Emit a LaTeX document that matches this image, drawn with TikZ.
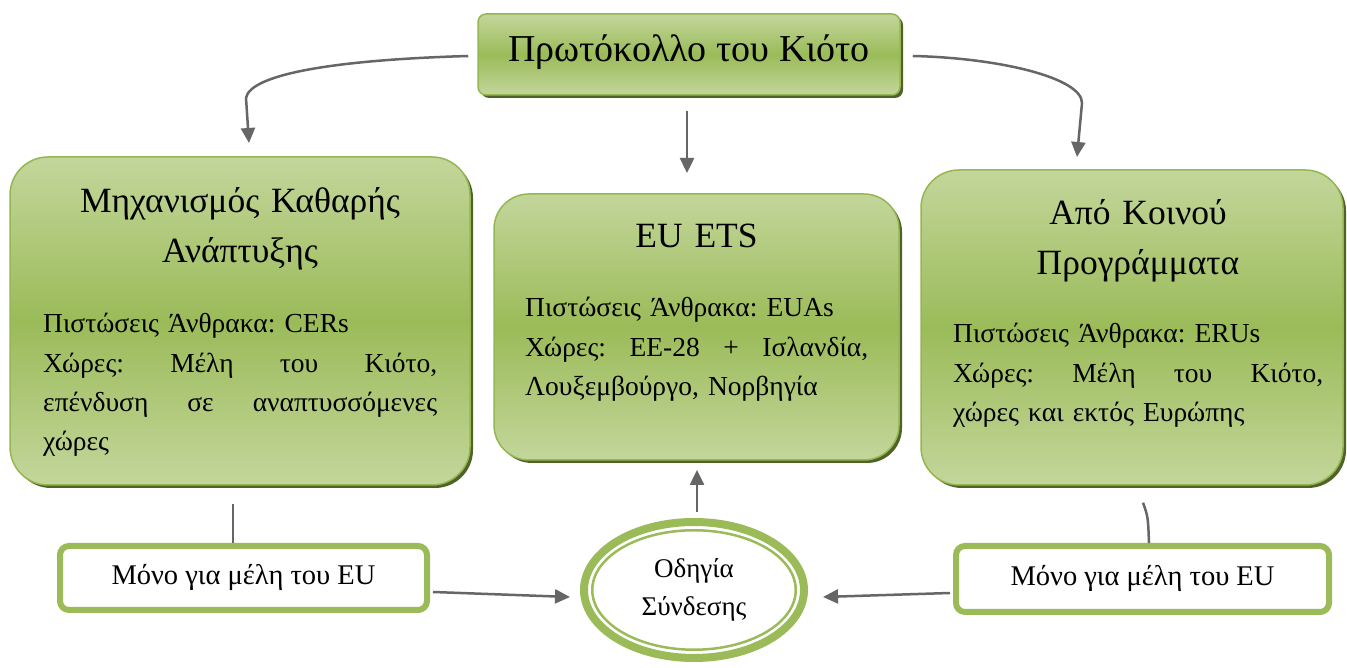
\documentclass[tikz,border=0pt]{standalone}
\usepackage{fontspec}
\setmainfont{Liberation Serif}
\usetikzlibrary{arrows.meta,shapes.geometric,shadows}
\definecolor{gl}{HTML}{C3D69B}
\definecolor{gm}{HTML}{9BBB59}
\definecolor{gborder}{HTML}{94B752}
\definecolor{gshadow}{HTML}{4F6228}
\definecolor{agray}{HTML}{666666}
\frenchspacing
\begin{document}
\begin{tikzpicture}[x=1pt,y=1pt,
  gbox/.style={draw=gborder, line width=1.5pt, top color=gl, bottom color=gl, middle color=gm,
    drop shadow={shadow xshift=3pt, shadow yshift=-3pt, opacity=1, fill=gshadow}, inner sep=0pt},
  wbox/.style={draw=gm, line width=6pt, fill=white, rounded corners=9pt, inner sep=0pt},
  titletext/.style={font=\fontsize{35.5}{50}\selectfont, text width=440pt, align=center, inner sep=0pt, anchor=base},
  bodytext/.style={font=\fontsize{27.5}{39.3}\selectfont, inner sep=0pt, anchor=base west},
  conn/.style={draw=agray, line width=2.5pt, -{Triangle[length=15pt,width=14pt]}},
  plainline/.style={draw=agray, line width=2.5pt}
]
\useasboundingbox (0,0) rectangle (1347,668);
\fill[white] (0,0) rectangle (1347,668);

% top box
\node[gbox, rounded corners=8pt, minimum width=422pt, minimum height=81pt] (kyoto) at (689,613.5) {};
\node[font=\fontsize{38}{45}\selectfont, anchor=base, inner sep=0pt] (kyotot) at (689,606) {Πρωτόκολλο του Κιότο};

% left box
\node[gbox, rounded corners=38pt, minimum width=460pt, minimum height=328pt] (cdm) at (240,347) {};
\node[titletext] (cdmt) at (240,455) {Μηχανισμός Καθαρής\\Ανάπτυξης};
\node[bodytext, text width=394pt] (cdmb) at (43,335) {Πιστώσεις Άνθρακα: CERs\\
Χώρες:\hfill Μέλη\hfill του\hfill Κιότο,\\
επένδυση\hfill σε\hfill αναπτυσσόμενες\\
χώρες};

% middle box
\node[gbox, rounded corners=35pt, minimum width=405pt, minimum height=266pt] (ets) at (696.5,341) {};
\node[titletext] (etst) at (696.5,420) {EU ETS};
\node[bodytext, text width=343pt] (etsb) at (525,351) {Πιστώσεις Άνθρακα: EUAs\\
Χώρες:\hfill ΕΕ-28\hfill +\hfill Ισλανδία,\\
Λουξεμβούργο, Νορβηγία};

% right box
\node[gbox, rounded corners=38pt, minimum width=422pt, minimum height=315pt] (ji) at (1132,340.5) {};
\node[titletext] (jit) at (1138,443) {Από Κοινού\\Προγράμματα};
\node[bodytext, text width=370pt] (jib) at (953,325) {Πιστώσεις Άνθρακα: ERUs\\
Χώρες:\hfill Μέλη\hfill του\hfill Κιότο,\\
χώρες και εκτός Ευρώπης};

% bottom boxes
\node[wbox, minimum width=367pt, minimum height=64pt, font=\fontsize{28.5}{36}\selectfont] (bl) at (243.5,90) {Μόνο για μέλη του EU};
\node[wbox, minimum width=373pt, minimum height=66pt, font=\fontsize{28.5}{36}\selectfont] (br) at (1142.5,89) {Μόνο για μέλη του EU};

% ellipse
\node[ellipse, draw=gm, line width=8pt, fill=white, minimum width=220pt, minimum height=136pt,
  align=center, font=\fontsize{27}{38}\selectfont] (od) at (694,78) {Οδηγία\\Σύνδεσης};
\draw[gm, line width=2.5pt] (od.center) ellipse [x radius=101.75, y radius=59.75];

% connector end points
\coordinate (a1) at (249,525);
\coordinate (a2) at (1077,511);
\coordinate (a3) at (687,495);
\coordinate (a4) at (570,71);
\coordinate (a5) at (823,71);
\coordinate (a6) at (697,198);

% connectors
\draw[conn] ([xshift=-9pt,yshift=-1.5pt]kyoto.west) .. controls (330,608) and (250,593) .. (246,570) -- (a1);
\draw[conn] ([xshift=12pt,yshift=-1.5pt]kyoto.east) .. controls (1000,610) and (1082,590) .. (1082,565) -- (a2);
\draw[conn] ([xshift=-2pt,yshift=-15pt]kyoto.south) -- (a3);
\draw[plainline] ([xshift=-7pt,yshift=-18pt]cdm.south) -- ([xshift=-10.5pt]bl.north);
\draw[plainline] ([xshift=11pt,yshift=-17pt]ji.south) .. controls +(5,-14) .. ([xshift=6.5pt]br.north);
\draw[conn] ([xshift=3pt,yshift=-14pt]bl.east) -- (a4);
\draw[conn] ([xshift=-3pt,yshift=-14pt]br.west) -- (a5);
\draw[conn] ([xshift=3pt,yshift=6pt]od.north) -- (a6);
\end{tikzpicture}
\end{document}
